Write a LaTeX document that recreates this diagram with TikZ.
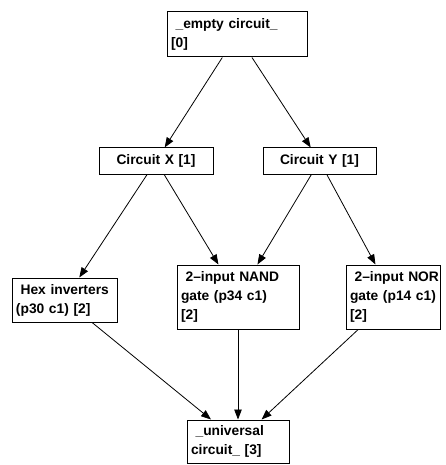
\documentclass[tikz,border=0pt]{standalone}
\usepackage{fontspec}
\setmainfont{Liberation Sans}
\usetikzlibrary{arrows.meta}
\begin{document}
\begin{tikzpicture}[x=1pt,y=-1pt,
  box/.style={draw, line width=1pt, fill=white, inner xsep=4pt, inner ysep=0pt,
    font=\fontsize{13.8}{19}\selectfont\bfseries, align=left},
  edge/.style={-{Triangle[length=10pt,width=7.5pt]}, line width=0.8pt}]
\useasboundingbox (0,0) rectangle (446,465);
% circuit nodes
\node[box, text width=132pt, minimum height=45pt] (empty) at (237,34.5)
  {\mbox{\ \_empty circuit\_}\\{}[0]};
\node[box, text width=106pt, minimum height=26pt, align=center] (cx) at (156,161)
  {Circuit X [1]};
\node[box, text width=105pt, minimum height=26pt, align=center] (cy) at (319.5,161)
  {Circuit Y [1]};
\node[box, text width=97pt, minimum height=44pt] (hex) at (64.5,300)
  {\mbox{\ Hex inverters}\\\mbox{(p30 c1) [2]}};
\node[box, text width=114pt, minimum height=64pt] (nand) at (238,297)
  {\mbox{\ 2–input NAND}\\\mbox{gate (p34 c1)}\\{}[2]};
\node[box, text width=86pt, minimum height=64pt] (nor) at (393,297)
  {\mbox{\ 2–input NOR}\\\mbox{gate (p14 c1)}\\{}[2]};
\node[box, text width=94pt, minimum height=43pt] (univ) at (238,441.5)
  {\mbox{\ \_universal}\\\mbox{circuit\_ [3]}};
% derivation edges
\draw[edge] (empty) -- (cx);
\draw[edge] (empty) -- (cy);
\draw[edge] (cx) -- (hex);
\draw[edge] (cx) -- (nand);
\draw[edge] (cy) -- (nand);
\draw[edge] (cy) -- (nor);
\draw[edge] (hex) -- (univ);
\draw[edge] (nand) -- (univ);
\draw[edge] (nor) -- (univ);
\end{tikzpicture}
\end{document}
